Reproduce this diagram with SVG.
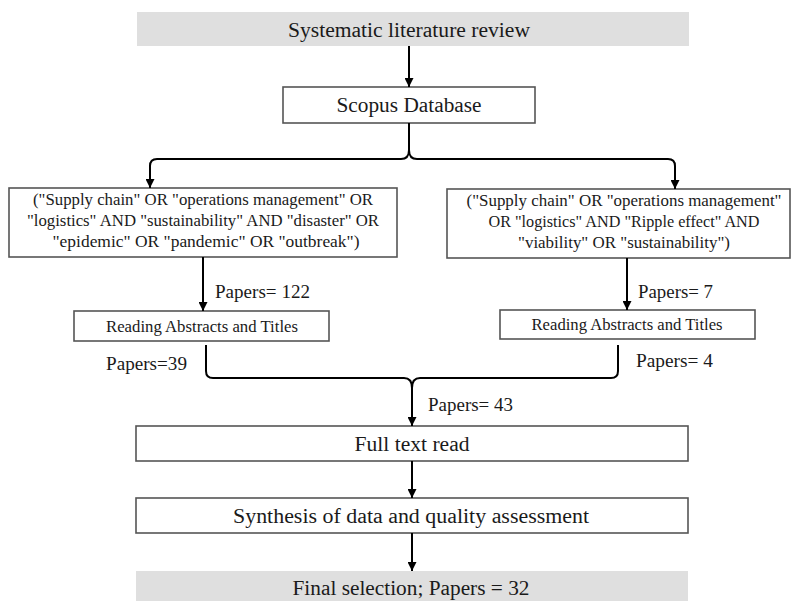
<svg xmlns="http://www.w3.org/2000/svg" width="791" height="601" viewBox="0 0 791 601">
<defs>
<style>
.box{fill:#ffffff;stroke:#555555;stroke-width:1.6}
.gbox{fill:#dfdfdf;stroke:none}
.t{font-family:"Liberation Serif","DejaVu Serif",serif;fill:#1a1a1a;text-anchor:middle}
.l{font-family:"Liberation Serif","DejaVu Serif",serif;fill:#1a1a1a}
.big{font-size:20px}
.q{font-size:17px}
.r{font-size:17px}
.p{font-size:18px}
.c{fill:none;stroke:#000000;stroke-width:2}
</style>
<marker id="ah" viewBox="0 0 10 10" refX="10" refY="5" markerWidth="9" markerHeight="9" markerUnits="userSpaceOnUse" orient="auto">
<path d="M0,0 L10,5 L0,10 z" fill="#000000"/>
</marker>
</defs>

<g id="slr">
<rect class="gbox" x="137" y="12" width="552" height="34"/>
<text class="t big" x="409" y="37" textLength="242" lengthAdjust="spacingAndGlyphs">Systematic literature review</text>
</g>

<g id="scopus">
<rect class="box" x="283" y="87" width="252" height="36"/>
<text class="t big" x="409" y="112" textLength="145" lengthAdjust="spacingAndGlyphs">Scopus Database</text>
</g>

<g id="query-left">
<rect class="box" x="9" y="188" width="388" height="69"/>
<text class="t q" x="203" y="205" textLength="340" lengthAdjust="spacingAndGlyphs">("Supply chain"  OR  "operations management"  OR</text>
<text class="t q" x="203" y="226" textLength="352" lengthAdjust="spacingAndGlyphs">"logistics"  AND  "sustainability"  AND  "disaster"  OR</text>
<text class="t q" x="206" y="247" textLength="307" lengthAdjust="spacingAndGlyphs">"epidemic"  OR  "pandemic"  OR  "outbreak")</text>
</g>

<g id="query-right">
<rect class="box" x="447" y="189" width="343" height="69"/>
<text class="t q" x="624" y="206" textLength="315" lengthAdjust="spacingAndGlyphs">("Supply chain"  OR  "operations management"</text>
<text class="t q" x="624" y="227" textLength="271" lengthAdjust="spacingAndGlyphs">OR  "logistics"  AND  "Ripple effect"  AND</text>
<text class="t q" x="624" y="248" textLength="212" lengthAdjust="spacingAndGlyphs">"viability"  OR  "sustainability")</text>
</g>

<g id="reading-left">
<rect class="box" x="74" y="311" width="255" height="30"/>
<text class="t r" x="202" y="332" textLength="192" lengthAdjust="spacingAndGlyphs">Reading Abstracts and Titles</text>
</g>

<g id="reading-right">
<rect class="box" x="500" y="310" width="255" height="29"/>
<text class="t r" x="627" y="330" textLength="191" lengthAdjust="spacingAndGlyphs">Reading Abstracts and Titles</text>
</g>

<g id="fulltext">
<rect class="box" x="136" y="426" width="552" height="35"/>
<text class="t big" x="412" y="451" textLength="115" lengthAdjust="spacingAndGlyphs">Full text read</text>
</g>

<g id="synthesis">
<rect class="box" x="136" y="498" width="552" height="35"/>
<text class="t big" x="411" y="523" textLength="356" lengthAdjust="spacingAndGlyphs">Synthesis of data and quality assessment</text>
</g>

<g id="final">
<rect class="gbox" x="136" y="571" width="552" height="30"/>
<text class="t big" x="411" y="595" textLength="237" lengthAdjust="spacingAndGlyphs">Final selection; Papers = 32</text>
</g>

<g id="labels">
<text class="l p" x="215" y="298" textLength="95" lengthAdjust="spacingAndGlyphs">Papers= 122</text>
<text class="l p" x="638" y="298" textLength="75" lengthAdjust="spacingAndGlyphs">Papers= 7</text>
<text class="l p" x="106" y="370" textLength="81" lengthAdjust="spacingAndGlyphs">Papers=39</text>
<text class="l p" x="636" y="367" textLength="77" lengthAdjust="spacingAndGlyphs">Papers= 4</text>
<text class="l p" x="428" y="411" textLength="85" lengthAdjust="spacingAndGlyphs">Papers= 43</text>
</g>

<g id="connectors">
<path class="c" d="M409,46 V87" marker-end="url(#ah)"/>
<path class="c" d="M409,123 V150 Q409,159 401,159 H157 Q150,159 150,166 V188" marker-end="url(#ah)"/>
<path class="c" d="M409,150 Q409,159 417,159 H668 Q675,159 675,166 V189" marker-end="url(#ah)"/>
<path class="c" d="M203,257 V311" marker-end="url(#ah)"/>
<path class="c" d="M627,258 V310" marker-end="url(#ah)"/>
<path class="c" d="M206,345 V371 Q206,378 213,378 H404 Q412,378 412,388 V426" marker-end="url(#ah)"/>
<path class="c" d="M618,345 V371 Q618,378 611,378 H420 Q412,378 412,388"/>
<path class="c" d="M412,461 V498" marker-end="url(#ah)"/>
<path class="c" d="M412,533 V571" marker-end="url(#ah)"/>
</g>
</svg>
